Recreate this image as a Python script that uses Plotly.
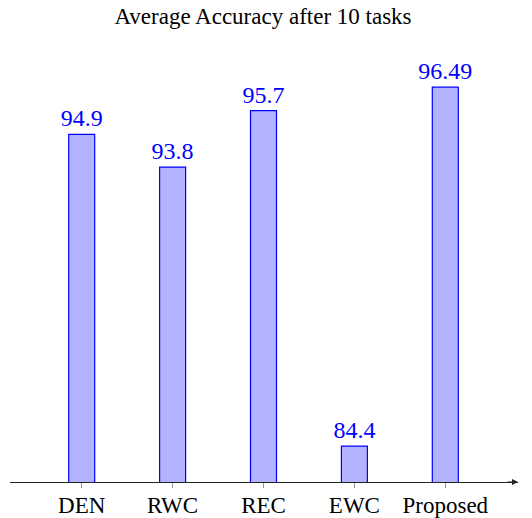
import plotly.graph_objects as go

methods = ["DEN", "RWC", "REC", "EWC", "Proposed"]
accuracy = [94.9, 93.8, 95.7, 84.4, 96.49]
value_labels = ["94.9", "93.8", "95.7", "84.4", "96.49"]

x_pos = list(range(len(methods)))
y_min, y_max = 83.19, 98.08
x_min, x_max = -0.789, 4.80

fig = go.Figure()
fig.add_trace(go.Bar(
    x=x_pos, y=accuracy, width=0.286,
    marker=dict(color="#b3b3ff", line=dict(color="#0000ff", width=1.2)),
    text=value_labels, textposition="outside", constraintext="none",
    textfont=dict(family="Liberation Serif", size=24, color="#0000ff"),
    cliponaxis=False, hoverinfo="skip",
))

# arrow at the end of the x axis
fig.add_annotation(
    x=x_max, y=y_min, xref="x", yref="y", ax=-12, ay=0,
    showarrow=True, arrowhead=2, arrowsize=1, arrowwidth=1.2, arrowcolor="#222222",
    text="",
)

fig.update_layout(
    width=532, height=518,
    margin=dict(l=10, r=14, t=40, b=36),
    plot_bgcolor="white", paper_bgcolor="white",
    showlegend=False,
    title=dict(text="Average Accuracy after 10 tasks", x=263/532, xanchor="center",
               y=1 - 16/518, yanchor="middle", yref="container",
               font=dict(family="Liberation Serif", size=23, color="black")),
    font=dict(family="Liberation Serif", size=23, color="black"),
)
fig.update_xaxes(
    range=[x_min, x_max], tickmode="array", tickvals=x_pos, ticktext=methods,
    showgrid=False, zeroline=False, showline=True, linecolor="#222222", linewidth=1.2,
    ticks="outside", ticklen=5, tickcolor="#999999", tickwidth=1,
    ticklabelstandoff=-3,
    tickfont=dict(family="Liberation Serif", size=23, color="black"),
    automargin=False, fixedrange=True,
)
fig.update_yaxes(range=[y_min, y_max], visible=False, showgrid=False, fixedrange=True)

fig.write_html("out.html", config={"displayModeBar": False},
               post_script="document.body.style.margin='0';document.body.style.overflow='hidden';")
